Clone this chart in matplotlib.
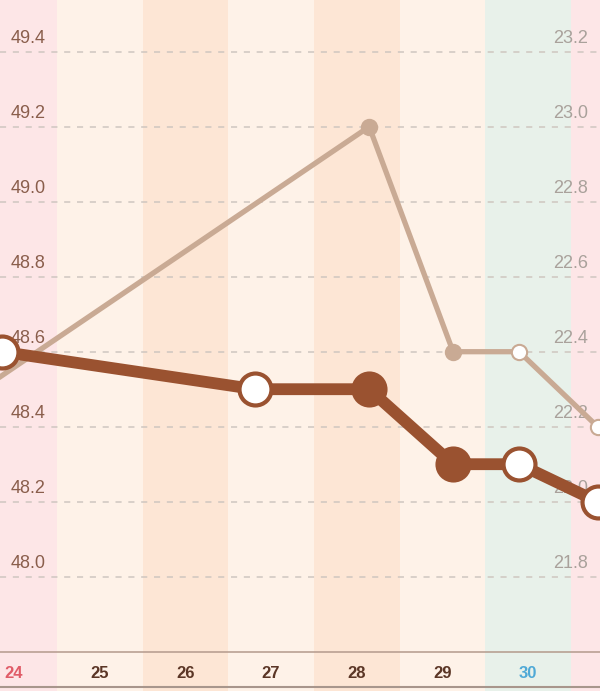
import matplotlib
matplotlib.use('Agg')
import matplotlib.pyplot as plt
from matplotlib.transforms import blended_transform_factory
from matplotlib.lines import Line2D

plt.rcParams['font.family'] = ['Liberation Sans', 'DejaVu Sans']

# days shown along the bottom
days = [24, 25, 26, 27, 28, 29, 30, 31]
day_labels = ['24', '25', '26', '27', '28', '29', '30', '']
band_colors = ['#fde6e7', '#fef2e8', '#fde6d5', '#fef2e8',
               '#fde6d5', '#fef2e8', '#e8f1ea', '#fde6e7']
label_colors = ['#e05c68', '#5b3626', '#5b3626', '#5b3626',
                '#5b3626', '#5b3626', '#4fa9d6', '#5b3626']

# dark series (left scale)
w_day = [24, 27, 28, 29, 30, 31]
w_hour = [8.5, 7.5, 15.5, 15, 9.5, 7.5]
w_val = [48.6, 48.5, 48.5, 48.3, 48.3, 48.2]
w_filled = [False, False, True, True, False, False]

# light series (right scale)
b_day = [23, 28, 29, 30, 31]
b_hour = [11.5, 15.5, 15, 9.5, 7.5]
b_val = [22.2, 23.0, 22.4, 22.4, 22.2]
b_filled = [True, True, True, False, False]

left_ticks = [48.0, 48.2, 48.4, 48.6, 48.8, 49.0, 49.2, 49.4]
right_ticks = [21.8, 22.0, 22.2, 22.4, 22.6, 22.8, 23.0, 23.2]

dark = '#9a5230'
light = '#c9aa94'


def to_x(day, hour):
    return [d - 0.5 + h / 24 for d, h in zip(day, hour)]


fig = plt.figure(figsize=(6, 6.91), dpi=100)
ax = fig.add_axes([0, 39 / 691, 1, 652 / 691])

for d, c in zip(days, band_colors):
    ax.axvspan(d - 0.5, d + 0.5, ymin=-39 / 652, ymax=1, color=c,
               lw=0, clip_on=False, zorder=0)

for v in right_ticks:
    ax.axhline(v, color='#cfc6c0', lw=1.1, ls=(0, (4, 4.4)), zorder=1)

for s in ['top', 'left', 'right']:
    ax.spines[s].set_visible(False)
ax.spines['bottom'].set_color('#b39a8c')
ax.spines['bottom'].set_linewidth(1.1)
ax.set_yticks([])
ax.set_xticks(days, day_labels, fontsize=12, fontweight='bold')
ax.tick_params(axis='x', length=0, pad=10)
for lab, c in zip(ax.get_xticklabels(), label_colors):
    lab.set_color(c)

tr = blended_transform_factory(ax.transAxes, ax.transData)
for v in right_ticks:
    ax.annotate(f'{v:.1f}', xy=(0.98, v), xycoords=tr, xytext=(0, 6),
                textcoords='offset points', ha='right', va='baseline',
                fontsize=13, color='#a9a19b', zorder=2)

bx = to_x(b_day, b_hour)
ax.plot(bx, b_val, color=light, lw=3.8, zorder=3, solid_capstyle='round')
for x, y, f in zip(bx, b_val, b_filled):
    ax.plot(x, y, 'o', ms=11, mew=1.5, mec=light,
            mfc=light if f else 'white', zorder=4)

ax2 = ax.twinx()
ax2.set_yticks([])
for s in ax2.spines.values():
    s.set_visible(False)

tr2 = blended_transform_factory(ax2.transAxes, ax2.transData)
for v in left_ticks:
    ax2.annotate(f'{v:.1f}', xy=(0.017, v), xycoords=tr2, xytext=(0, 6),
                 textcoords='offset points', ha='left', va='baseline',
                 fontsize=13, color='#8a5e4c', zorder=2)

wx = to_x(w_day, w_hour)
ax2.plot(wx, w_val, color=dark, lw=8.5, zorder=3)
for x, y, f in zip(wx, w_val, w_filled):
    ax2.plot(x, y, 'o', ms=23, mew=3, mec=dark,
             mfc=dark if f else 'white', zorder=4)

# limits last, so the shared x axis is not rescaled by later plots
ax.set_xlim(23.8366, 30.840)
ax.set_ylim(21.5992, 23.3379)
ax2.set_ylim(47.7992, 49.5379)

fig.add_artist(Line2D([0, 1], [4 / 691, 4 / 691], transform=fig.transFigure,
                      color='#a8968c', lw=1.5))

fig.savefig('out.png', dpi=100)
